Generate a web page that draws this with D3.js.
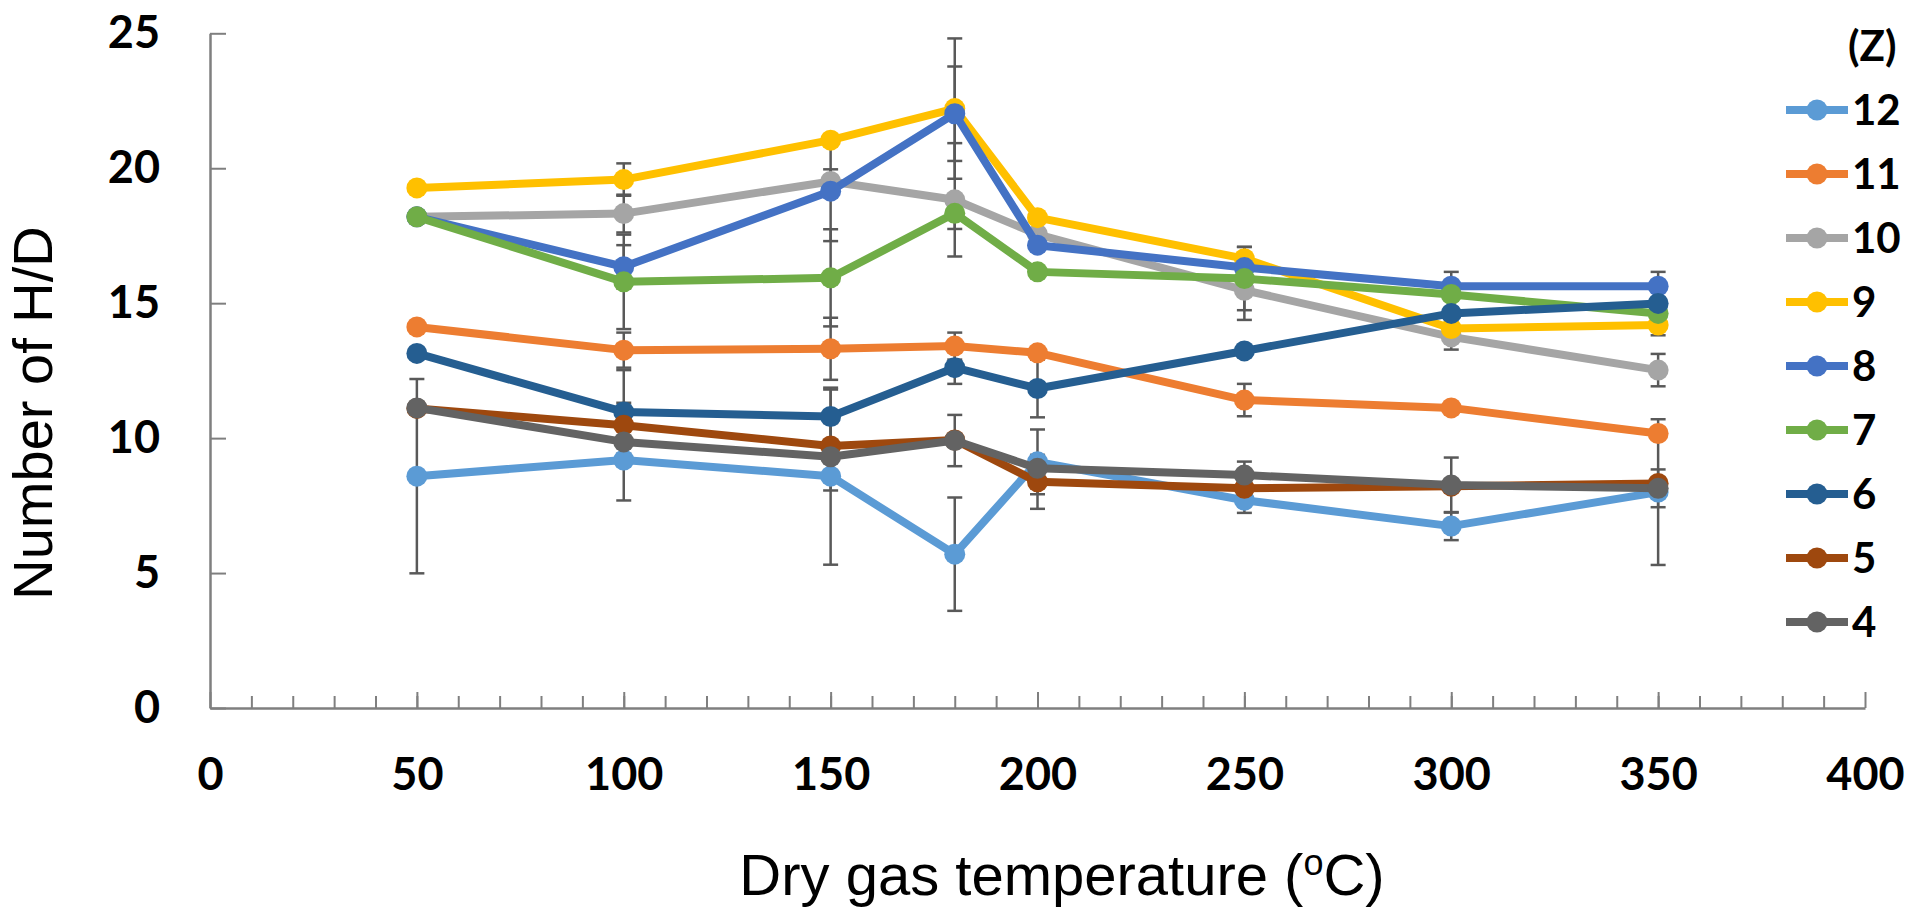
<!DOCTYPE html>
<html>
<head>
<meta charset="utf-8">
<script src="https://cdn.jsdelivr.net/npm/d3@7"></script>
<style>
  body { margin: 0; background: #fff; }
  svg { display: block; }
</style>
</head>
<body>
<svg id="chart"></svg>
<script>
// temperatures on the x axis
const temps = [50, 100, 150, 180, 200, 250, 300, 350];

// series labels (Z) and colours, in drawing order
const seriesNames = ['12', '11', '10', '9', '8', '7', '6', '5', '4'];
const seriesColors = ['#5B9BD5', '#ED7D31', '#A5A5A5', '#FFC000', '#4472C4', '#70AD47', '#255E91', '#9E480E', '#636363'];

// mean number of H/D per series
const z12 = [8.59, 9.19, 8.59, 5.70, 9.12, 7.70, 6.74, 8.00];
const z11 = [14.12, 13.26, 13.31, 13.41, 13.16, 11.41, 11.12, 10.17];
const z10 = [18.20, 18.32, 19.51, 18.83, 17.55, 15.48, 13.75, 12.52];
const z9 = [19.27, 19.58, 21.04, 22.21, 18.17, 16.65, 14.06, 14.19];
const z8 = [18.20, 16.35, 19.15, 22.02, 17.15, 16.32, 15.63, 15.63];
const z7 = [18.20, 15.79, 15.94, 18.33, 16.16, 15.91, 15.32, 14.62];
const z6 = [13.14, 10.97, 10.80, 12.61, 11.84, 13.23, 14.62, 14.99];
const z5 = [11.10, 10.48, 9.71, 9.93, 8.38, 8.14, 8.22, 8.32];
const z4 = [11.12, 9.86, 9.31, 9.91, 8.88, 8.63, 8.26, 8.14];

// error bar half-lengths (same order)
const e12 = [3.60, 1.50, 3.28, 2.10, 1.20, 0.47, 0.52, 2.70];
const e11 = [0, 0.65, 1.15, 0.50, 0, 0.60, 0, 0];
const e10 = [0, 0.70, 0.45, 2.10, 0, 1.10, 0.47, 0.60];
const e9 = [0, 0.60, 0, 2.60, 0, 0.44, 0, 0.38];
const e8 = [0, 0.80, 1.85, 1.75, 0, 0, 0.53, 0.53];
const e7 = [0, 1.75, 1.80, 0.58, 0, 1.17, 0, 0];
const e6 = [0, 1.55, 1.00, 0.60, 1.07, 0, 0, 0];
const e5 = [0, 0.83, 0, 0, 1.00, 0, 0, 0];
const e4 = [0, 0, 1.25, 0.95, 0, 0.50, 1.02, 0.70];

const seriesValues = [z12, z11, z10, z9, z8, z7, z6, z5, z4];
const seriesErrors = [e12, e11, e10, e9, e8, e7, e6, e5, e4];

const xTicks = [0, 50, 100, 150, 200, 250, 300, 350, 400];
const yTicks = [0, 5, 10, 15, 20, 25];

const W = 1920, H = 917;
const svg = d3.select('#chart').attr('width', W).attr('height', H);

const x = d3.scaleLinear().domain([0, 400]).range([210, 1865]);
const y = d3.scaleLinear().domain([0, 25]).range([708, 33.3]);

const labelFont = 'Lato, "Open Sans", sans-serif';
const axisColor = '#7f7f7f';

// minor x ticks
svg.append('g')
    .attr('transform', `translate(0,${y(0)})`)
    .call(d3.axisBottom(x).tickValues(d3.range(10, 400, 10)).tickSizeInner(-12).tickSizeOuter(0).tickFormat(''))
    .call(g => g.select('.domain').remove())
    .call(g => g.selectAll('line').attr('stroke', axisColor).attr('stroke-width', 2));

// x axis
svg.append('g')
    .attr('transform', `translate(0,${y(0)})`)
    .call(d3.axisBottom(x).tickValues(xTicks).tickSizeInner(-16).tickSizeOuter(0).tickPadding(50))
    .call(g => g.select('.domain').attr('stroke', axisColor).attr('stroke-width', 2.5))
    .call(g => g.selectAll('line').attr('stroke', axisColor).attr('stroke-width', 2))
    .call(g => g.selectAll('text')
        .attr('font-family', labelFont).attr('font-weight', 700)
        .attr('font-size', 45).attr('fill', '#000'));

// y axis
svg.append('g')
    .attr('transform', `translate(${x(0)},0)`)
    .call(d3.axisLeft(y).tickValues(yTicks).tickSizeInner(-16).tickSizeOuter(0).tickPadding(50))
    .call(g => g.select('.domain').attr('stroke', axisColor).attr('stroke-width', 2.5))
    .call(g => g.selectAll('line').attr('stroke', axisColor).attr('stroke-width', 2))
    .call(g => g.selectAll('text')
        .attr('font-family', labelFont).attr('font-weight', 700)
        .attr('font-size', 45).attr('fill', '#000'));

// axis titles
svg.append('text')
    .attr('x', 1062).attr('y', 895)
    .attr('text-anchor', 'middle')
    .attr('font-family', '"Liberation Sans", Arial, sans-serif')
    .attr('font-size', 58)
    .attr('fill', '#000')
    .call(t => {
        t.append('tspan').text('Dry gas temperature (');
        t.append('tspan').attr('font-size', 36).attr('dy', -20).text('o');
        t.append('tspan').attr('dy', 20).text('C)');
    });

svg.append('text')
    .attr('transform', 'translate(52,413) rotate(-90)')
    .attr('text-anchor', 'middle')
    .attr('font-family', '"Liberation Sans", Arial, sans-serif')
    .attr('font-size', 56)
    .attr('fill', '#000')
    .text('Number of H/D');

// series data
const series = seriesNames.map((name, i) => ({
    name,
    color: seriesColors[i],
    points: temps.map((t, j) => ({ t, v: seriesValues[i][j], e: seriesErrors[i][j] }))
}));

// error bars (behind lines)
const errG = svg.append('g');
series.forEach(s => {
    s.points.filter(p => p.e > 0).forEach(p => {
        const g = errG.append('g').attr('stroke', '#595959').attr('stroke-width', 2.5);
        g.append('line').attr('x1', x(p.t)).attr('x2', x(p.t)).attr('y1', y(p.v + p.e)).attr('y2', y(p.v - p.e));
        g.append('line').attr('x1', x(p.t) - 7.5).attr('x2', x(p.t) + 7.5).attr('y1', y(p.v + p.e)).attr('y2', y(p.v + p.e));
        g.append('line').attr('x1', x(p.t) - 7.5).attr('x2', x(p.t) + 7.5).attr('y1', y(p.v - p.e)).attr('y2', y(p.v - p.e));
    });
});

const line = d3.line().x(d => x(d.t)).y(d => y(d.v));

series.forEach(s => {
    const g = svg.append('g');
    g.append('path')
        .datum(s.points)
        .attr('d', line)
        .attr('fill', 'none')
        .attr('stroke', s.color)
        .attr('stroke-width', 8)
        .attr('stroke-linejoin', 'round');
    g.selectAll('circle')
        .data(s.points)
        .enter().append('circle')
        .attr('cx', d => x(d.t))
        .attr('cy', d => y(d.v))
        .attr('r', 10.5)
        .attr('fill', s.color);
});

// legend
const legend = svg.append('g');
legend.append('text')
    .attr('x', 1848).attr('y', 46)
    .attr('dy', '0.35em')
    .attr('font-family', labelFont).attr('font-weight', 700)
    .attr('font-size', 42).attr('fill', '#000')
    .text('(Z)');

series.forEach((s, i) => {
    const ly = 110 + i * 64;
    legend.append('line')
        .attr('x1', 1786).attr('x2', 1848).attr('y1', ly).attr('y2', ly)
        .attr('stroke', s.color).attr('stroke-width', 8);
    legend.append('circle')
        .attr('cx', 1817).attr('cy', ly).attr('r', 10.5)
        .attr('fill', s.color);
    legend.append('text')
        .attr('x', 1852).attr('y', ly)
        .attr('dy', '0.36em')
        .attr('font-family', labelFont).attr('font-weight', 700)
        .attr('font-size', 42).attr('fill', '#000')
        .text(s.name);
});
</script>
</body>
</html>
